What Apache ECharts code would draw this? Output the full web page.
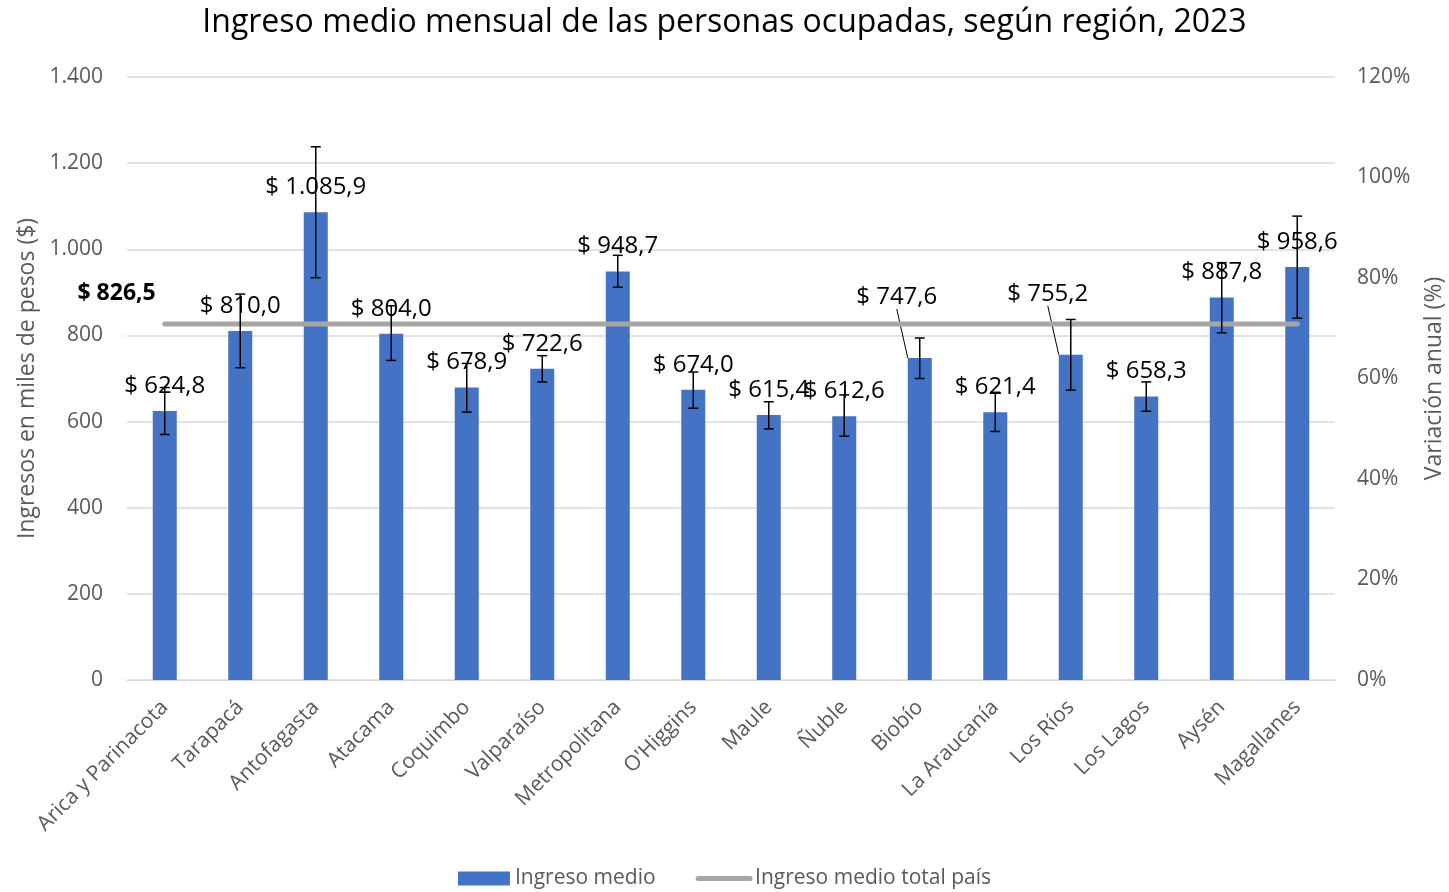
<!DOCTYPE html>
<html>
<head>
<meta charset="utf-8">
<script src="https://cdn.jsdelivr.net/npm/echarts@6/dist/echarts.min.js"></script>
<style>
  html, body { margin: 0; padding: 0; background: #fff; }
  #chart { width: 1449px; height: 892px; }
</style>
</head>
<body>
<div id="chart"></div>
<script>
  // regiones
  const regiones = ['Arica y Parinacota', 'Tarapacá', 'Antofagasta', 'Atacama', 'Coquimbo', 'Valparaíso',
    'Metropolitana', "O'Higgins", 'Maule', 'Ñuble', 'Biobío', 'La Araucanía', 'Los Ríos', 'Los Lagos',
    'Aysén', 'Magallanes']
  // ingreso medio (miles de $)
  const ingresoMedio = [624.8, 810.0, 1085.9, 804.0, 678.9, 722.6, 948.7, 674.0, 615.4, 612.6, 747.6, 621.4,
    755.2, 658.3, 887.8, 958.6]
  // intervalos de confianza
  const limiteInf = [570, 725, 934, 742, 622, 692, 912, 631, 583, 566, 700, 577, 673, 624, 806, 840]
  const limiteSup = [679, 896, 1238, 869, 735, 753, 986, 715, 646, 662, 794, 668, 837, 692, 969, 1077]
  const ingresoPais = 826.5
  const ticksIzq = [0, 200, 400, 600, 800, 1000, 1200, 1400]
  const ticksDer = [0, 0.2, 0.4, 0.6, 0.8, 1.0, 1.2]
  // etiquetas desplazadas con línea guía
  const etiquetasMovidas = [10, 12]

  const FONT = '"Open Sans", sans-serif'
  const GRIS = '#595959'

  function miles(v, dec) {
    let s = v.toFixed(dec)
    let partes = s.split('.')
    partes[0] = partes[0].replace(/\B(?=(\d{3})+(?!\d))/g, '.')
    return partes.join(',')
  }

  const myChart = echarts.init(document.getElementById('chart'))

  const option = {
    backgroundColor: '#fff',
    textStyle: { fontFamily: FONT },
    title: {
      text: 'Ingreso medio mensual de las personas ocupadas, según región, 2023',
      left: 'center',
      top: 2,
      textStyle: { fontFamily: FONT, fontSize: 32, fontWeight: 'normal', color: '#000' }
    },
    legend: {
      bottom: -2,
      left: 'center',
      itemWidth: 52,
      itemHeight: 14,
      itemGap: 40,
      textStyle: { fontFamily: FONT, fontSize: 21, color: GRIS },
      data: [
        { name: 'Ingreso medio', icon: 'rect' },
        { name: 'Ingreso medio total país', itemStyle: { opacity: 0 }, lineStyle: { width: 5, cap: 'round' } }
      ]
    },
    grid: { left: 127, right: 114, top: 77, bottom: 212, outerBoundsMode: 'none' },
    xAxis: {
      type: 'category',
      data: regiones,
      axisLine: { show: true, lineStyle: { color: '#D9D9D9', width: 1 } },
      axisTick: { show: false },
      axisLabel: {
        rotate: 45,
        interval: 0,
        margin: 24,
        fontFamily: FONT,
        fontSize: 21,
        color: GRIS
      }
    },
    yAxis: [{
      type: 'value',
      min: ticksIzq[0],
      max: ticksIzq[ticksIzq.length - 1],
      interval: 200,
      name: 'Ingresos en miles de pesos ($)',
      nameLocation: 'middle',
      nameGap: 88,
      nameTextStyle: { fontFamily: FONT, fontSize: 23, color: GRIS },
      axisLine: { show: false },
      axisTick: { show: false },
      axisLabel: {
        margin: 24,
        fontFamily: FONT,
        fontSize: 21,
        color: GRIS,
        formatter: v => miles(v, 0)
      },
      splitLine: { show: true, lineStyle: { color: '#D9D9D9', width: 1.5 } }
    }, {
      type: 'value',
      min: ticksDer[0],
      max: ticksDer[ticksDer.length - 1],
      interval: 0.2,
      name: 'Variación anual (%)',
      nameLocation: 'middle',
      nameGap: 88,
      nameRotate: 90,
      nameTextStyle: { fontFamily: FONT, fontSize: 23, color: GRIS },
      axisLine: { show: false },
      axisTick: { show: false },
      splitLine: { show: false },
      axisLabel: {
        margin: 22,
        fontFamily: FONT,
        fontSize: 21,
        color: GRIS,
        formatter: v => Math.round(v * 100) + '%'
      }
    }],
    series: [
      {
        name: 'Ingreso medio',
        type: 'bar',
        barWidth: 24,
        itemStyle: { color: '#4472C4' },
        data: ingresoMedio.map((v, i) => etiquetasMovidas.includes(i)
          ? { value: v, labelLine: { show: true } }
          : v),
        label: {
          show: true,
          position: 'top',
          distance: 13,
          fontFamily: FONT,
          fontSize: 24,
          color: '#000',
          formatter: p => '$ ' + miles(p.value, 1)
        },
        labelLine: {
          show: false,
          lineStyle: { color: '#000', width: 1 }
        },
        labelLayout: p => etiquetasMovidas.includes(p.dataIndex) ? { dx: -23, dy: -36 } : {},
        z: 2
      },
      {
        name: 'Ingreso medio total país',
        type: 'line',
        symbol: 'none',
        data: regiones.map(() => ingresoPais),
        lineStyle: { color: '#A5A5A5', width: 5, cap: 'round' },
        itemStyle: { color: '#A5A5A5' },
        markPoint: {
          symbol: 'circle',
          symbolSize: 0,
          data: [{ coord: [0, ingresoPais], value: ingresoPais }],
          label: {
            show: true,
            position: 'left',
            offset: [-4, -31],
            fontFamily: FONT,
            fontSize: 23,
            fontWeight: 'bold',
            color: '#000',
            formatter: p => '$ ' + miles(p.value, 1)
          }
        },
        z: 3
      },
      {
        name: 'error',
        type: 'custom',
        data: regiones.map((c, i) => [i, limiteInf[i], limiteSup[i]]),
        encode: { x: 0, y: [1, 2] },
        renderItem: (params, api) => {
          const x = api.value(0)
          const lo = api.coord([x, api.value(1)])
          const hi = api.coord([x, api.value(2)])
          const w = 5
          const estilo = { stroke: '#000', lineWidth: 1.5 }
          return {
            type: 'group',
            children: [
              { type: 'line', shape: { x1: hi[0], y1: hi[1], x2: lo[0], y2: lo[1] }, style: estilo },
              { type: 'line', shape: { x1: hi[0] - w, y1: hi[1], x2: hi[0] + w, y2: hi[1] }, style: estilo },
              { type: 'line', shape: { x1: lo[0] - w, y1: lo[1], x2: lo[0] + w, y2: lo[1] }, style: estilo }
            ]
          }
        },
        silent: true,
        z: 4
      }
    ]
  }

  myChart.setOption(option)
</script>
</body>
</html>
